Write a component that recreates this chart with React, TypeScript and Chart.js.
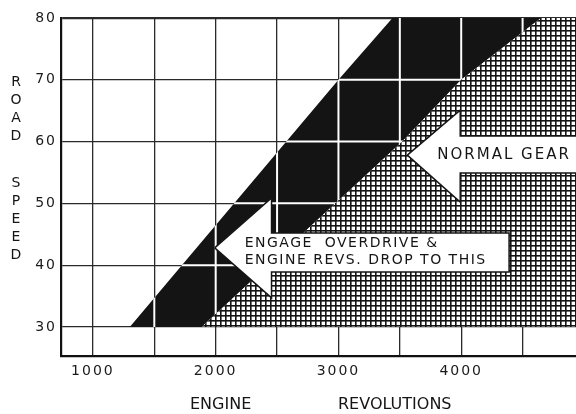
import { useEffect, useRef } from 'react';
import { Chart, registerables } from 'chart.js';

Chart.register(...registerables);

const FONT = '"DejaVu Sans", "Liberation Sans", sans-serif';

// ---- axes ----
const xMin = 740;
const xMax = 4935;
const yMin = 25.3;
const yMax = 80;
const xGridRpm = [1000, 1500, 2000, 2500, 3000, 3500, 4000, 4500];
const xLabelRpm = [1000, 2000, 3000, 4000];
const yGridMph = [30, 40, 50, 60, 70, 80];
const yTickLabels = ['30', '40', '50', '60', '70', '80'];

// ---- black "engage overdrive" band (polygon vertices: rpm / mph) ----
const bandRpm = [1300, 3000, 3440, 4650, 4000, 3520, 1886];
const bandMph = [30, 70, 80, 80, 70, 60, 30];

// ---- hatched "normal gear" region ----
const hatchRpm = [5300, 1886, 3520, 4000, 4650, 5300];
const hatchMph = [30, 30, 60, 70, 80, 80];

// ---- arrows ----
const normalArrowRpm = [3561, 3992, 3992, 5300, 5300, 3992, 3992, 3561];
const normalArrowMph = [57.8, 65.1, 60.9, 60.9, 54.9, 54.9, 50.2, 57.8];
const engageArrowRpm = [1992, 2455, 2455, 4390, 4390, 2455, 2455, 1992];
const engageArrowMph = [42.8, 50.9, 45.2, 45.2, 38.9, 38.9, 34.7, 42.8];

// ---- annotation texts ----
const normalText = 'NORMAL GEAR';
const engageText1 = 'ENGAGE  OVERDRIVE &';
const engageText2 = 'ENGINE REVS. DROP TO THIS';
const yTitleWord1 = ['R', 'O', 'A', 'D'];
const yTitleWord2 = ['S', 'P', 'E', 'E', 'D'];
const xTitleWord1 = 'ENGINE';
const xTitleWord2 = 'REVOLUTIONS';

const BAND_INDEX = 3;

function pts(xs: number[], ys: number[]) {
  return xs.map((x, i) => ({ x, y: ys[i] }));
}

function makeHatch(): CanvasPattern | string {
  const c = document.createElement('canvas');
  c.width = 10;
  c.height = 10;
  const g = c.getContext('2d');
  if (!g) return '#777';
  g.fillStyle = '#ffffff';
  g.fillRect(0, 0, 10, 10);
  g.fillStyle = '#141414';
  g.fillRect(0, 0, 10, 1.6);
  g.fillRect(0, 5, 10, 1.6);
  g.fillRect(0, 0, 1.6, 10);
  g.fillRect(5, 0, 1.6, 10);
  const p = g.createPattern(c, 'repeat');
  return p || '#777';
}

const overlayPlugin = {
  id: 'overlay',
  beforeDraw(chart: any) {
    const ctx = chart.ctx as any;
    ctx.letterSpacing = '2px';
  },
  afterDatasetDraw(chart: any, args: any) {
    if (args.index !== BAND_INDEX) return;
    const ctx = chart.ctx as CanvasRenderingContext2D;
    const a = chart.chartArea;
    const xs = chart.scales.x;
    const ys = chart.scales.y;
    const data = args.meta.data;
    ctx.save();
    ctx.beginPath();
    ctx.rect(a.left, a.top, a.right - a.left, a.bottom - a.top);
    ctx.clip();
    ctx.beginPath();
    data.forEach((p: any, i: number) => (i ? ctx.lineTo(p.x, p.y) : ctx.moveTo(p.x, p.y)));
    ctx.closePath();
    ctx.clip();
    ctx.strokeStyle = '#ffffff';
    ctx.lineWidth = 2;
    ctx.beginPath();
    for (const v of xGridRpm) {
      const px = xs.getPixelForValue(v);
      ctx.moveTo(px, a.top);
      ctx.lineTo(px, a.bottom);
    }
    for (const v of yGridMph) {
      if (v === 30 || v === 80) continue;
      const py = ys.getPixelForValue(v);
      ctx.moveTo(a.left, py);
      ctx.lineTo(a.right, py);
    }
    ctx.stroke();
    ctx.restore();
  },
  afterDatasetsDraw(chart: any) {
    const ctx = chart.ctx as any;
    const xs = chart.scales.x;
    const ys = chart.scales.y;
    ctx.save();
    ctx.fillStyle = '#151515';
    ctx.textBaseline = 'middle';
    ctx.textAlign = 'left';

    ctx.font = `15px ${FONT}`;
    ctx.letterSpacing = '2px';
    ctx.fillText(normalText, xs.getPixelForValue(3805), ys.getPixelForValue(57.8));

    ctx.font = `14px ${FONT}`;
    ctx.letterSpacing = '1.5px';
    ctx.fillText(engageText1, xs.getPixelForValue(2236), ys.getPixelForValue(43.6));
    ctx.fillText(engageText2, xs.getPixelForValue(2236), ys.getPixelForValue(40.8));
    ctx.restore();
  },
  afterDraw(chart: any) {
    const ctx = chart.ctx as any;
    ctx.save();
    ctx.fillStyle = '#151515';
    ctx.textBaseline = 'middle';
    ctx.textAlign = 'center';
    ctx.letterSpacing = '0px';
    ctx.font = `14px ${FONT}`;
    yTitleWord1.forEach((ch, i) => ctx.fillText(ch, 16, 82 + i * 18));
    yTitleWord2.forEach((ch, i) => ctx.fillText(ch, 16, 183 + i * 18));
    ctx.font = `16px ${FONT}`;
    ctx.textAlign = 'left';
    ctx.fillText(xTitleWord1, 190, 405);
    ctx.fillText(xTitleWord2, 338, 405);
    ctx.restore();
  },
};

export default function App() {
  const ref = useRef<HTMLCanvasElement | null>(null);

  useEffect(() => {
    const canvas = ref.current;
    if (!canvas) return;
    const hatch = makeHatch();
    const chart = new Chart(canvas, {
      type: 'scatter',
      data: {
        datasets: [
          {
            label: 'normal arrow',
            data: pts(normalArrowRpm, normalArrowMph),
            showLine: true,
            fill: 'shape',
            backgroundColor: '#ffffff',
            borderColor: '#151515',
            borderWidth: 1.5,
            pointRadius: 0,
            tension: 0,
          } as any,
          {
            label: 'engage arrow',
            data: pts(engageArrowRpm, engageArrowMph),
            showLine: true,
            fill: 'shape',
            backgroundColor: '#ffffff',
            borderColor: '#151515',
            borderWidth: 1.5,
            pointRadius: 0,
            tension: 0,
          } as any,
          {
            label: 'normal gear region',
            data: pts(hatchRpm, hatchMph),
            showLine: true,
            fill: 'shape',
            backgroundColor: hatch,
            borderWidth: 0,
            pointRadius: 0,
            tension: 0,
          } as any,
          {
            label: 'overdrive band',
            data: pts(bandRpm, bandMph),
            showLine: true,
            fill: 'shape',
            backgroundColor: '#141414',
            borderColor: '#141414',
            borderWidth: 0,
            pointRadius: 0,
            tension: 0,
          } as any,
        ],
      },
      options: {
        responsive: false,
        animation: false,
        events: [],
        layout: { padding: { top: 18, right: 0, left: 0, bottom: 0 } },
        plugins: {
          legend: { display: false },
          tooltip: { enabled: false },
        },
        scales: {
          x: {
            type: 'linear',
            min: xMin,
            max: xMax,
            afterBuildTicks: (s: any) => {
              s.ticks = xGridRpm.map((v) => ({ value: v }));
            },
            afterFit: (s: any) => {
              s.height = 58;
            },
            ticks: {
              autoSkip: false,
              maxRotation: 0,
              padding: 7,
              color: '#1a1a1a',
              font: { size: 14, family: FONT },
              callback: (v: any) => (xLabelRpm.includes(Number(v)) ? String(v) : ''),
            },
            grid: { color: '#2a2a2a', lineWidth: 1.3, drawTicks: false },
            border: { display: true, color: '#111', width: 2.2 },
          },
          y: {
            type: 'linear',
            min: yMin,
            max: yMax,
            afterBuildTicks: (s: any) => {
              s.ticks = yGridMph.map((v) => ({ value: v }));
            },
            afterFit: (s: any) => {
              s.width = 61;
            },
            ticks: {
              padding: 4,
              color: '#1a1a1a',
              font: { size: 14, family: FONT },
              callback: (v: any) => {
                const i = yGridMph.indexOf(Number(v));
                return i >= 0 ? yTickLabels[i] : '';
              },
            },
            grid: {
              color: '#2a2a2a',
              lineWidth: (c: any) => (c.tick && c.tick.value === 80 ? 2.2 : 1.3),
              drawTicks: false,
            },
            border: { display: true, color: '#111', width: 2.2 },
          },
        },
      },
      plugins: [overlayPlugin as any],
    });
    return () => chart.destroy();
  }, []);

  return (
    <div style={{ position: 'absolute', left: 0, top: 0, width: 576, height: 414, background: '#fff' }}>
      <canvas ref={ref} width={576} height={414} style={{ display: 'block', width: 576, height: 414 }} />
    </div>
  );
}
